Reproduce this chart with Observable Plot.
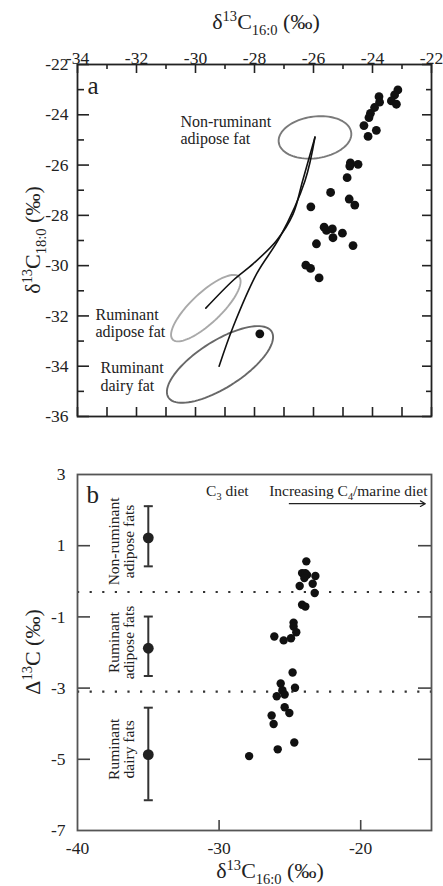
<!DOCTYPE html>
<html><head><meta charset="utf-8">
<script src="https://cdn.jsdelivr.net/npm/d3@7"></script>
<script src="https://cdn.jsdelivr.net/npm/@observablehq/plot@0.6"></script>
<style>
html,body{margin:0;padding:0;background:#fff;}
#chart{width:443px;}
#chart svg{display:block;}
</style></head><body><div id="chart"></div>
<script>
// ---------- Panel a data: δ13C16:0 vs δ13C18:0 (‰) ----------
const aD16 = [-23.14,-23.25,-23.36,-23.19,-23.78,-23.76,-23.93,-24.07,-24.12,-24.29,-23.87,-24.15,
  -24.75,-24.49,-24.77,-24.86,-25.42,-24.79,-24.60,-26.09,-25.64,-25.56,-25.36,-25.34,-25.02,-25.90,-24.66,-26.26,-26.10,-25.81,-27.82];
const aD18 = [-23.01,-23.21,-23.45,-23.58,-23.28,-23.50,-23.71,-23.94,-24.11,-24.43,-24.62,-24.86,
  -25.91,-25.97,-26.04,-26.50,-27.09,-27.35,-27.59,-27.66,-28.47,-28.60,-28.54,-28.89,-28.71,-29.13,-29.20,-29.98,-30.11,-30.49,-32.71];

// reference ellipses (centre and two semi-axis vectors, in ‰)
const ellNames = ["Non-ruminant adipose fat","Ruminant adipose fat","Ruminant dairy fat"];
const ellCx = [-25.95,-29.65,-29.17];
const ellCy = [-24.90,-31.69,-33.93];
const ellAx = [1.228,1.124,1.748];
const ellAy = [0.201,1.249,1.314];
const ellBx = [0.099,0.354,0.429];
const ellBy = [-0.820,-0.434,-0.776];
const ellLabelText = ["Non-ruminant\nadipose fat","Ruminant\nadipose fat","Ruminant\ndairy fat"];
const ellLabelX = [-30.51,-33.39,-33.22];
const ellLabelY = [-24.60,-32.27,-34.41];

// mixing curves
const mixAdiposeX = [-25.95,-26.37,-26.69,-27.25,-28.04,-28.72,-29.65];
const mixAdiposeY = [-24.89,-26.63,-27.94,-29.00,-29.92,-30.58,-31.69];
const mixDairyX = [-25.95,-26.29,-27.14,-27.92,-28.72,-29.20];
const mixDairyY = [-24.89,-26.63,-28.87,-30.31,-32.42,-34.00];

const aXTicks = [-34,-32,-30,-28,-26,-24,-22];
const aXMinor = [-33,-31,-29,-27,-25,-23];
const aYTicks = [-36,-34,-32,-30,-28,-26,-24,-22];
const aYMinor = [-35,-33,-31,-29,-27,-25,-23];

// ---------- Panel b data: δ13C16:0 vs Δ13C (‰) ----------
const bD16 = [-23.84,-24.14,-23.91,-23.79,-23.20,-23.98,-24.31,-23.39,-23.25,-24.14,-23.91,-24.74,-24.74,-24.55,-24.92,-26.10,-25.44,
  -24.81,-25.65,-24.64,-25.53,-25.93,-25.37,-25.37,-25.04,-26.29,-26.15,-24.69,-25.86,-27.88];
const bDelta = [0.56,0.23,0.23,0.18,0.15,0.09,-0.13,-0.07,-0.33,-0.66,-0.71,-1.16,-1.27,-1.43,-1.60,-1.55,-1.66,
  -2.56,-2.87,-2.99,-3.06,-3.23,-3.18,-3.54,-3.70,-3.77,-4.01,-4.53,-4.72,-4.91];

const refGroups = ["Non-ruminant\nadipose fats","Ruminant\nadipose fats","Ruminant\ndairy fats"];
const refX = [-35,-35,-35];
const refMean = [1.22,-1.88,-4.87];
const refLow = [0.42,-2.66,-6.15];
const refHigh = [2.11,-0.99,-3.55];
const refLabelY = [1.12,-1.72,-4.72];
const bThresholds = [-0.3,-3.1];

const dietLabelX = [-29.38,-20.84];
const dietLabelY = [2.39,2.39];
const arrowX1 = [-25.04], arrowX2 = [-15.44], arrowY = [2.18];

const bXTicks = [-40,-30,-20];
const bXInner = [-30,-20];
const bYTicks = [3,1,-1,-3,-5,-7];
const bYInner = [1,-1,-3,-5];

// ---------- layout / style ----------
const FONT = "'Liberation Serif','Times New Roman',serif";
const INK = "#222";
const W = 443, ML = 77, MR = 12;
const topH = 440, topMT = 64, topMB = 24;
const botH = 446, botMT = 34, botMB = 56;
const plotW = W - ML - MR;
const topPH = topH - topMT - topMB;
const botPH = botH - botMT - botMB;
const tk = {stroke: INK, strokeWidth: 1.6};

const aPts = aD16.map((x, i) => ({x, y: aD18[i]}));
const ellPts = ellNames.flatMap((name, i) => d3.range(0, 91).map(k => {
  const t = k / 90 * 2 * Math.PI;
  return {name,
    x: ellCx[i] + Math.cos(t) * ellAx[i] + Math.sin(t) * ellBx[i],
    y: ellCy[i] + Math.cos(t) * ellAy[i] + Math.sin(t) * ellBy[i]};
}));
const mixPts = [
  ...mixAdiposeX.map((x, i) => ({line: "adipose", x, y: mixAdiposeY[i]})),
  ...mixDairyX.map((x, i) => ({line: "dairy", x, y: mixDairyY[i]}))
];

const topPlot = Plot.plot({
  width: W, height: topH, marginTop: topMT, marginBottom: topMB, marginLeft: ML, marginRight: MR,
  style: {fontFamily: FONT, fontSize: "17.5px", color: INK, background: "#fff", overflow: "visible"},
  x: {domain: [-34, -22]},
  y: {domain: [-36, -22]},
  color: {domain: ellNames, range: ["#7a7a7a", "#a9a9a9", "#686868"]},
  marks: [
    Plot.axisX({anchor: "top", ticks: aXTicks, tickSize: 0, tickPadding: 1, tickFormat: d => String(d), label: null}),
    Plot.axisY({anchor: "left", ticks: aYTicks, tickSize: 0, tickPadding: 9, tickFormat: d => String(d), label: null}),
    Plot.tickX(aXTicks, {x: d => d, insetBottom: topPH - 9, ...tk}),
    Plot.tickX(aXMinor, {x: d => d, insetBottom: topPH - 5, ...tk}),
    Plot.tickX([...aXTicks, ...aXMinor], {x: d => d, insetTop: topPH - 9, ...tk}),
    Plot.tickY(aYTicks, {y: d => d, insetRight: plotW - 12, ...tk}),
    Plot.tickY(aYMinor, {y: d => d, insetRight: plotW - 7, ...tk}),
    Plot.tickY(aYTicks, {y: d => d, insetLeft: plotW - 9, ...tk}),
    Plot.tickY(aYMinor, {y: d => d, insetLeft: plotW - 5, ...tk}),
    Plot.line(ellPts, {x: "x", y: "y", z: "name", stroke: "name", strokeWidth: 1.9, curve: "linear-closed"}),
    Plot.line(mixPts, {x: "x", y: "y", z: "line", curve: "catmull-rom", stroke: "#111", strokeWidth: 1.6}),
    Plot.dot(aPts, {x: "x", y: "y", r: 4.4, fill: "#111"}),
    Plot.text(ellLabelText, {x: (d, i) => ellLabelX[i], y: (d, i) => ellLabelY[i], text: d => d,
      textAnchor: "start", lineHeight: 1.1, fontSize: 16, fill: INK}),
    Plot.text(["a"], {frameAnchor: "top-left", dx: 10, dy: 12, fontSize: 25, fill: INK}),
    Plot.frame({stroke: INK, strokeWidth: 1.8})
  ]
});

const bPts = bD16.map((x, i) => ({x, y: bDelta[i]}));
const capSymbol = {draw(ctx) { ctx.moveTo(-4.5, 0); ctx.lineTo(4.5, 0); }};
const refIdx = refGroups.map((d, i) => i);

const botPlot = Plot.plot({
  width: W, height: botH, marginTop: botMT, marginBottom: botMB, marginLeft: ML, marginRight: MR,
  style: {fontFamily: FONT, fontSize: "17.5px", color: INK, background: "#fff", overflow: "visible"},
  x: {domain: [-40, -15]},
  y: {domain: [-7, 3]},
  marks: [
    Plot.axisX({anchor: "bottom", ticks: bXTicks, tickSize: 0, tickPadding: 11, tickFormat: d => String(d), label: null}),
    Plot.axisY({anchor: "left", ticks: bYTicks, tickSize: 0, tickPadding: 12, tickFormat: d => String(d), label: null}),
    Plot.tickX(bXInner, {x: d => d, insetTop: botPH - 10, stroke: "#444", strokeWidth: 1.6}),
    Plot.tickY(bYInner, {y: d => d, insetRight: plotW - 13, stroke: "#444", strokeWidth: 1.6}),
    Plot.tickY(bYInner, {y: d => d, insetLeft: plotW - 13, stroke: "#444", strokeWidth: 1.6}),
    Plot.ruleY(bThresholds, {y: d => d, stroke: "#333", strokeWidth: 2.2, strokeDasharray: "2.2,10.4"}),
    Plot.ruleX(refIdx, {x: i => refX[i], y1: i => refLow[i], y2: i => refHigh[i], stroke: "#333", strokeWidth: 2}),
    Plot.dot(refIdx, {x: i => refX[i], y: i => refLow[i], symbol: capSymbol, fill: "none", stroke: "#333", strokeWidth: 2}),
    Plot.dot(refIdx, {x: i => refX[i], y: i => refHigh[i], symbol: capSymbol, fill: "none", stroke: "#333", strokeWidth: 2}),
    Plot.dot(refIdx, {x: i => refX[i], y: i => refMean[i], r: 5.4, fill: "#222"}),
    Plot.text(refIdx, {x: i => refX[i], y: i => refLabelY[i], text: i => refGroups[i], rotate: -90,
      dx: -27, lineHeight: 1.0, fontSize: 15.5, fill: INK}),
    Plot.dot(bPts, {x: "x", y: "y", r: 4.2, fill: "#111"}),
    Plot.arrow(arrowY, {x1: (d, i) => arrowX1[i], x2: (d, i) => arrowX2[i], y1: d => d, y2: d => d,
      stroke: INK, strokeWidth: 1.2, headLength: 7}),
    Plot.text(["b"], {frameAnchor: "top-left", dx: 9, dy: 11, fontSize: 25, fill: INK}),
    Plot.frame({stroke: "#555", strokeWidth: 1.8})
  ]
});

// rich text (super/subscripts) placed with the plots' own scales
function richText(svg, {x, y, rotate = 0, size, anchor = "middle", parts}) {
  const t = d3.select(svg).append("text")
    .attr("transform", `translate(${x},${y}) rotate(${rotate})`)
    .attr("text-anchor", anchor).attr("font-family", FONT)
    .attr("font-size", size).attr("fill", INK);
  let shift = 0;
  for (const [s, mode] of parts) {
    const target = mode === "sup" ? -0.36 * size : mode === "sub" ? 0.26 * size : 0;
    t.append("tspan").attr("dy", target - shift).attr("font-size", mode ? size * 0.66 : size).text(s);
    shift = target;
  }
}
const d16parts = [["δ"], ["13", "sup"], ["C"], ["16:0", "sub"], [" (‰)"]];
richText(topPlot, {x: 266, y: 29, size: 22, parts: d16parts});
richText(topPlot, {x: 40, y: (topMT + topH - topMB) / 2, rotate: -90, size: 22,
  parts: [["δ"], ["13", "sup"], ["C"], ["18:0", "sub"], [" (‰)"]]});
richText(botPlot, {x: 40, y: (botMT + botH - botMB) / 2, rotate: -90, size: 22,
  parts: [["Δ"], ["13", "sup"], ["C (‰)"]]});
richText(botPlot, {x: 270, y: 438, size: 22, parts: d16parts});
const bx = botPlot.scale("x"), by = botPlot.scale("y");
richText(botPlot, {x: bx.apply(dietLabelX[0]), y: by.apply(dietLabelY[0]), size: 15.5, parts: [["C"], ["3", "sub"], [" diet"]]});
richText(botPlot, {x: bx.apply(dietLabelX[1]), y: by.apply(dietLabelY[1]), size: 15.5, parts: [["Increasing C"], ["4", "sub"], ["/marine diet"]]});

document.getElementById("chart").append(topPlot, botPlot);
</script></body></html>
